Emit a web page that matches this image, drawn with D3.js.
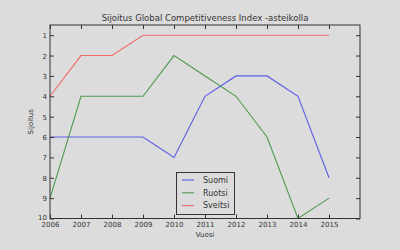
<!DOCTYPE html>
<html><head><meta charset="utf-8">
<script src="https://cdn.jsdelivr.net/npm/d3@7"></script>
<style>body{margin:0;background:#dcdcdc;}svg{display:block;font-family:"DejaVu Sans",sans-serif;}</style>
</head><body>
<script>
const years = [2006,2007,2008,2009,2010,2011,2012,2013,2014,2015];
const suomi = [6,6,6,6,7,4,3,3,4,8];
const ruotsi = [9,4,4,4,2,3,4,6,10,9];
const sveitsi = [4,2,2,1,1,1,1,1,1,1];
const seriesNames = ["Suomi","Ruotsi","Sveitsi"];
const seriesColors = ["#5c5ce6","#4f9a4f","#f06a6a"];
const yTicks = [1,2,3,4,5,6,7,8,9,10];
const xTicks = years;

const W=400,H=250;
const svg=d3.select("body").append("svg").attr("width",W).attr("height",H);
svg.append("rect").attr("width",W).attr("height",H).attr("fill","#dcdcdc");
const L=50,R=360,T=25,B=218.5;
const x=d3.scaleLinear().domain([2006,2016]).range([L,R]);
const y=d3.scaleLinear().domain([0.5,10]).range([T,B]);

svg.append("rect").attr("x",L).attr("y",T).attr("width",R-L).attr("height",B-T).attr("fill","#dcdcdc");

const data=[suomi,ruotsi,sveitsi];
const line=d3.line().x((d,i)=>x(years[i])).y(d=>y(d));
data.forEach((s,k)=>{
  svg.append("path").datum(s).attr("d",line).attr("fill","none").attr("stroke",seriesColors[k]).attr("stroke-width",1.1);
});

const fmt=d3.format("d");
const gb=svg.append("g").attr("transform",`translate(0,${B})`).call(d3.axisBottom(x).tickValues(xTicks).tickFormat(fmt).tickSizeInner(-4).tickSizeOuter(0).tickPadding(4));
const gt=svg.append("g").attr("transform",`translate(0,${T})`).call(d3.axisTop(x).tickValues(xTicks).tickFormat("").tickSizeInner(-4).tickSizeOuter(0));
const gl=svg.append("g").attr("transform",`translate(${L},0)`).call(d3.axisLeft(y).tickValues(yTicks).tickFormat(fmt).tickSizeInner(-4).tickSizeOuter(0).tickPadding(3));
const gr=svg.append("g").attr("transform",`translate(${R},0)`).call(d3.axisRight(y).tickValues(yTicks).tickFormat("").tickSizeInner(-4).tickSizeOuter(0));
[gb,gt,gl,gr].forEach(g=>{
  g.select(".domain").remove();
  g.selectAll("line").attr("stroke","#333");
  g.selectAll("text").attr("fill","#333").style("font-size","7px").style("font-family","DejaVu Sans");
});
gl.selectAll("text").attr("dy","0.35em");
gl.selectAll(".tick").filter(d=>d===10).select("text").attr("dy","0.1em");
svg.append("rect").attr("x",L).attr("y",T).attr("width",R-L).attr("height",B-T).attr("fill","none").attr("stroke","#333").attr("stroke-width",1);

svg.append("text").attr("x",(L+R)/2).attr("y",21).attr("text-anchor","middle").attr("fill","#333").style("font-size","8.5px").text("Sijoitus Global Competitiveness Index -asteikolla");
svg.append("text").attr("x",(L+R)/2).attr("y",237).attr("text-anchor","middle").attr("fill","#333").style("font-size","7px").text("Vuosi");
svg.append("text").attr("transform",`translate(33,${(T+B)/2}) rotate(-90)`).attr("text-anchor","middle").attr("fill","#333").style("font-size","7px").text("Sijoitus");

const lg=svg.append("g");
lg.append("rect").attr("x",176.5).attr("y",172.5).attr("width",58).attr("height",42).attr("fill","#dcdcdc").attr("stroke","#333");
seriesNames.forEach((n,i)=>{
  const yy=180+i*12.8;
  lg.append("line").attr("x1",182).attr("x2",194).attr("y1",yy).attr("y2",yy).attr("stroke",seriesColors[i]).attr("stroke-width",1.1);
  lg.append("text").attr("x",203).attr("y",yy).attr("dy","0.35em").attr("fill","#333").style("font-size","8px").text(n);
});
</script>
</body></html>
